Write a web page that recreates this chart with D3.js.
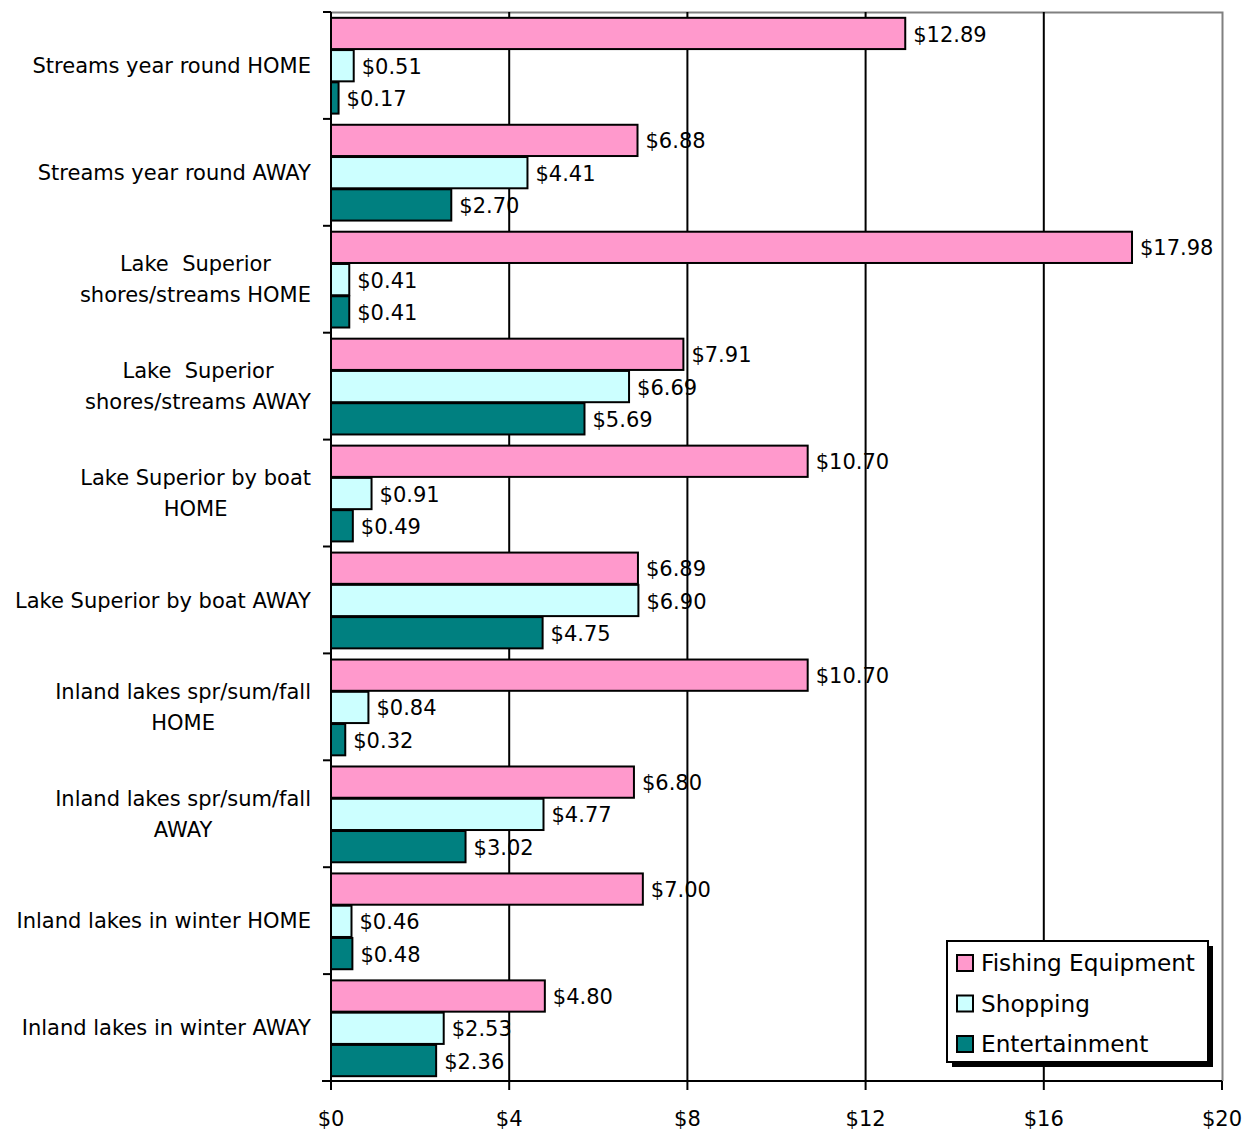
<!DOCTYPE html>
<html><head><meta charset="utf-8">
<script src="https://cdn.jsdelivr.net/npm/d3@7"></script>
<style>body{margin:0;background:#fff}svg{display:block}text{font-family:"DejaVu Sans",sans-serif;fill:#000}</style>
</head><body><svg id="c" width="1256" height="1132"></svg>
<script>
const categories = [
  ["Streams year round HOME"],
  ["Streams year round AWAY"],
  ["Lake  Superior", "shores/streams HOME"],
  ["Lake  Superior", "shores/streams AWAY"],
  ["Lake Superior by boat", "HOME"],
  ["Lake Superior by boat AWAY"],
  ["Inland lakes spr/sum/fall", "HOME"],
  ["Inland lakes spr/sum/fall", "AWAY"],
  ["Inland lakes in winter HOME"],
  ["Inland lakes in winter AWAY"]
];
const seriesNames = ["Fishing Equipment", "Shopping", "Entertainment"];
const fishing = [12.89, 6.88, 17.98, 7.91, 10.70, 6.89, 10.70, 6.80, 7.00, 4.80];
const shopping = [0.51, 4.41, 0.41, 6.69, 0.91, 6.90, 0.84, 4.77, 0.46, 2.53];
const entertainment = [0.17, 2.70, 0.41, 5.69, 0.49, 4.75, 0.32, 3.02, 0.48, 2.36];
const xTicks = [0, 4, 8, 12, 16, 20];
const colors = ["#FF99CC", "#CCFFFF", "#008080"];
const series = [fishing, shopping, entertainment];

const svg = d3.select("#c");
const L = 331, R = 1222, T = 12, B = 1081;
const FS = 21;
const x = d3.scaleLinear().domain([0, 20]).range([L, R]);
const y = d3.scaleBand().domain(d3.range(categories.length)).range([T, B]).paddingInner(0.095).paddingOuter(0.045);
const sub = d3.scaleBand().domain(d3.range(3)).range([0, y.bandwidth()]);

// top + right border (gray)
svg.append("path").attr("d", `M${L},${T+0.5}H${R+0.5}V${B}`).attr("fill","none").attr("stroke","#808080").attr("stroke-width",2);
// gridlines
svg.append("g").selectAll("line").data(xTicks.filter(d => d > 0 && d < 20)).join("line")
  .attr("x1", d => x(d)).attr("x2", d => x(d)).attr("y1", T).attr("y2", B)
  .attr("stroke", "#000").attr("stroke-width", 2);

// bars
const g = svg.append("g");
series.forEach((vals, si) => {
  g.selectAll(null).data(vals).join("rect")
    .attr("x", x(0)).attr("y", (d, i) => y(i) + sub(si) + 1)
    .attr("width", d => x(d) - x(0)).attr("height", sub.bandwidth() - 1)
    .attr("fill", colors[si]).attr("stroke", "#000").attr("stroke-width", 2);
  g.selectAll(null).data(vals).join("text")
    .attr("x", d => x(d) + 8).attr("y", (d, i) => y(i) + sub(si) + sub.bandwidth()/2 + 1)
    .attr("dy", "0.36em").attr("font-size", FS)
    .text(d => "$" + d.toFixed(2));
});

// y axis
const step = (B - T) / categories.length;
svg.append("line").attr("x1", L).attr("x2", L).attr("y1", T).attr("y2", B + 9).attr("stroke", "#000").attr("stroke-width", 2);
svg.append("g").selectAll("line").data(d3.range(categories.length + 1)).join("line")
  .attr("x1", L - 8).attr("x2", L).attr("y1", i => T + i * step).attr("y2", i => T + i * step)
  .attr("stroke", "#000").attr("stroke-width", 2);
// category labels
const lab = svg.append("g");
categories.forEach((lines, i) => {
  const cy = T + (i + 0.5) * step;
  const lh = 31;
  const t = lab.append("text").attr("font-size", FS).attr("text-anchor", "middle");
  lines.forEach((s, k) => {
    t.append("tspan").attr("xml:space", "preserve").attr("x", 0).attr("y", cy + (k - (lines.length - 1) / 2) * lh).attr("dy", "0.36em").text(s);
  });
  const w = t.node().getBBox().width;
  t.attr("transform", `translate(${311 - w/2},0)`);
});

// x axis
svg.append("line").attr("x1", L - 9).attr("x2", R).attr("y1", B).attr("y2", B).attr("stroke", "#000").attr("stroke-width", 2);
const xa = svg.append("g");
xa.selectAll("line").data(xTicks).join("line")
  .attr("x1", d => x(d)).attr("x2", d => x(d)).attr("y1", B).attr("y2", B + 9)
  .attr("stroke", "#000").attr("stroke-width", 2);
xa.selectAll("text").data(xTicks).join("text")
  .attr("x", d => x(d)).attr("y", 1126).attr("text-anchor", "middle").attr("font-size", FS)
  .text(d => "$" + d);

// legend
const lg = svg.append("g");
lg.append("rect").attr("x", 952).attr("y", 946).attr("width", 261).attr("height", 121).attr("fill", "#000");
lg.append("rect").attr("x", 947).attr("y", 941).attr("width", 261).attr("height", 121).attr("fill", "#fff").attr("stroke", "#000").attr("stroke-width", 2);
seriesNames.forEach((n, i) => {
  const cy = 963 + i * 40.5;
  lg.append("rect").attr("x", 957).attr("y", cy - 8).attr("width", 16).attr("height", 16).attr("fill", colors[i]).attr("stroke", "#000").attr("stroke-width", 2);
  lg.append("text").attr("x", 981).attr("y", cy).attr("dy", "0.36em").attr("font-size", 23.2).text(n);
});
</script></body></html>
